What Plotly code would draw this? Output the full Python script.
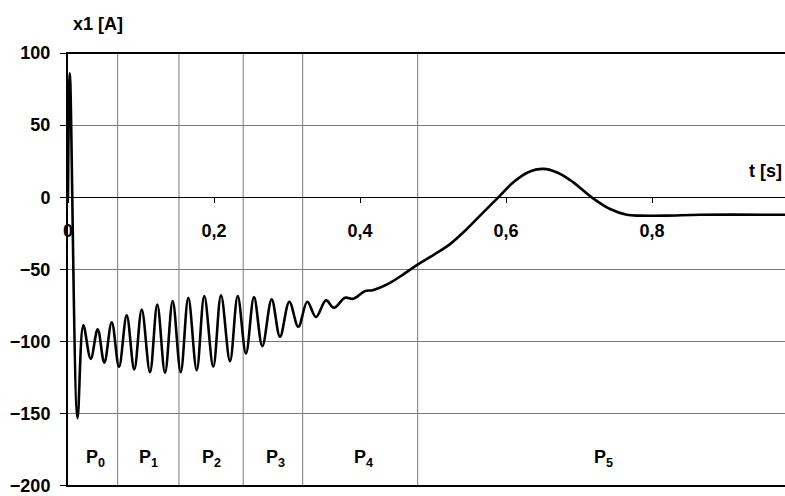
import plotly.graph_objects as go

# Current x1 [A] over time t [s]
t_s = [0.0, 0.0025, 0.0130, 0.0210, 0.0311, 0.0407, 0.0497, 0.0599, 0.0699,
       0.0804, 0.0908, 0.1010, 0.1123, 0.1223, 0.1329, 0.1434, 0.1544, 0.1648,
       0.1763, 0.1867, 0.1990, 0.2096, 0.2219, 0.2325, 0.2438, 0.2548, 0.2662,
       0.2790, 0.2904, 0.3032, 0.3155, 0.3278, 0.3397, 0.3534, 0.3644, 0.3795,
       0.3908, 0.4068, 0.4174, 0.4411, 0.4593, 0.4799, 0.5004, 0.5233, 0.5462,
       0.5689, 0.5895, 0.6100, 0.6305, 0.6511, 0.6716, 0.6922, 0.7174, 0.7425,
       0.7653, 0.7836, 0.8201, 0.8658, 0.9822]
x1_a = [0.0, 86.0, -153.0, -88.7, -111.9, -91.5, -114.6, -86.5, -117.4,
        -81.8, -119.3, -77.7, -121.2, -74.2, -121.6, -71.9, -121.2, -69.6,
        -119.8, -68.4, -117.4, -67.8, -113.5, -68.4, -108.2, -69.1, -103.1,
        -70.7, -96.6, -72.3, -89.7, -72.3, -83.0, -71.4, -76.5, -69.6,
        -70.3, -65.0, -64.3, -59.2, -53.4, -46.3, -40.0, -32.4, -22.0,
        -10.4, 0.0, 10.4, 17.4, 19.7, 16.9, 10.4, 0.0, -8.1,
        -12.1, -12.7, -12.7, -12.1, -12.1]

# Phase boundaries and phase labels
phase_bounds = [0.068, 0.152, 0.240, 0.3215, 0.479]
phase_names = ["P<sub>0</sub>", "P<sub>1</sub>", "P<sub>2</sub>",
               "P<sub>3</sub>", "P<sub>4</sub>", "P<sub>5</sub>"]
phase_label_t = [0.038, 0.110, 0.196, 0.284, 0.405, 0.733]

x_ticks = [0.0, 0.2, 0.4, 0.6, 0.8]
x_tick_text = ["0", "0,2", "0,4", "0,6", "0,8"]
y_ticks = [-200, -150, -100, -50, 0, 50, 100]
Y_MIN, Y_MAX = -200, 100
Y_PAD = 0.7          # small pad so the frame lines sit fully inside the plot area
T_MAX = 0.9822

FONT = "Liberation Sans"
FS = 18
bold = dict(family=FONT, size=FS, color="black", weight=700)

y_lo, y_hi = Y_MIN - Y_PAD, Y_MAX + Y_PAD

fig = go.Figure()
fig.add_trace(go.Scatter(
    x=t_s, y=x1_a, mode="lines",
    line=dict(color="black", width=2.6, shape="spline", smoothing=1.0),
    hoverinfo="x+y", showlegend=False,
))
# heavy frame lines at the top and bottom of the value range
for yv in (Y_MAX, Y_MIN):
    fig.add_trace(go.Scatter(
        x=[0, T_MAX], y=[yv, yv], mode="lines",
        line=dict(color="black", width=2),
        hoverinfo="skip", showlegend=False,
    ))

shapes = []
for b in phase_bounds:
    shapes.append(dict(type="line", xref="x", yref="y", x0=b, x1=b, y0=Y_MIN, y1=Y_MAX,
                       line=dict(color="#7a7a7a", width=1), layer="below"))

def yfrac(v):
    return (v - y_lo) / (y_hi - y_lo)

def xfrac(v):
    return v / T_MAX

annotations = []
for name, xt in zip(phase_names, phase_label_t):
    annotations.append(dict(x=xt, y=-181, xref="x", yref="y", text=name, showarrow=False,
                            xanchor="center", yanchor="middle", font=bold))
annotations.append(dict(x=xfrac(0.004), y=yfrac(120), xref="paper", yref="paper",
                        text="x1 [A]", showarrow=False,
                        xanchor="left", yanchor="middle", font=bold))
annotations.append(dict(x=xfrac(0.9808), y=yfrac(18), xref="paper", yref="paper",
                        text="t [s]", showarrow=False,
                        xanchor="right", yanchor="middle", font=bold))

fig.update_layout(
    width=785, height=496,
    margin=dict(l=68, r=0, t=52, b=9),
    paper_bgcolor="white", plot_bgcolor="white",
    shapes=shapes, annotations=annotations,
    xaxis=dict(
        range=[0, T_MAX], anchor="free", position=yfrac(0),
        showline=True, linecolor="black", linewidth=1,
        ticks="outside", ticklen=5, tickcolor="black", tickwidth=1,
        tickvals=x_ticks, ticktext=x_tick_text, ticklabelstandoff=12,
        showgrid=False, zeroline=False, tickfont=bold,
    ),
    yaxis=dict(
        range=[y_lo, y_hi], tickvals=y_ticks,
        showline=True, linecolor="black", linewidth=2,
        ticks="outside", ticklen=6, tickcolor="black", tickwidth=1,
        ticklabelstandoff=6, ticklabeloverflow="allow",
        showgrid=True, gridcolor="#7a7a7a", gridwidth=1, zeroline=False,
        tickfont=bold,
    ),
)

fig.write_html("out.html")
